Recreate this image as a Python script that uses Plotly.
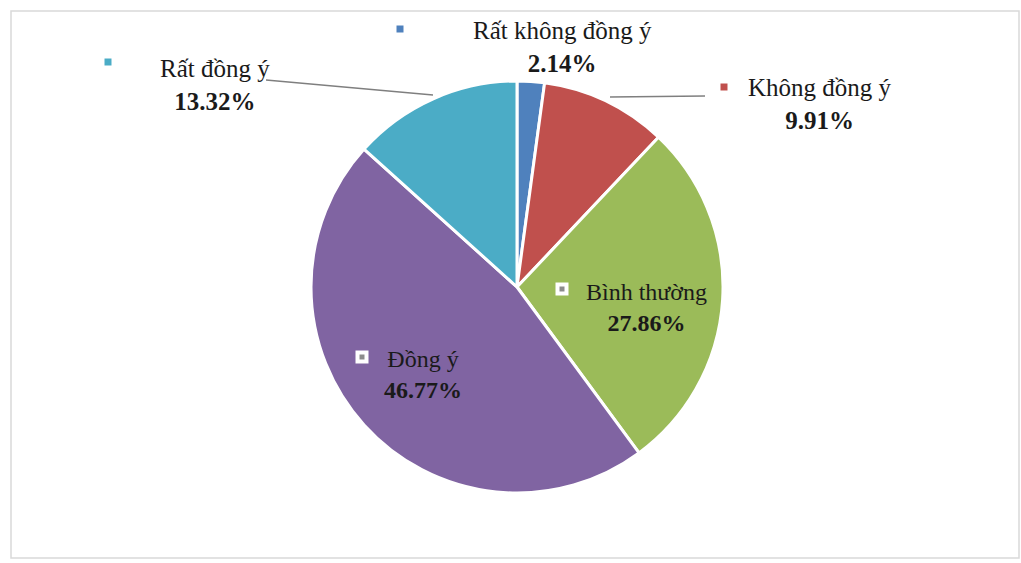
import plotly.graph_objects as go

# Survey response shares (%)
categories = ["Rất không đồng ý", "Không đồng ý", "Bình thường", "Đồng ý", "Rất đồng ý"]
shares = [2.14, 9.91, 27.86, 46.77, 13.32]
colors = ["#4F81BD", "#C0504D", "#9BBB59", "#8064A2", "#4BACC6"]

W, H = 1021, 563
FONT = "'Liberation Serif', 'DejaVu Serif', serif"


def px(x, y):
    """Convert pixel position (from top-left) to paper coordinates."""
    return x / W, 1 - y / H


# Pie placement
cx, cy, r = 517, 287, 206
x0, y0 = px(cx - r, cy + r)
x1, y1 = px(cx + r, cy - r)

fig = go.Figure(
    go.Pie(
        labels=categories,
        values=shares,
        sort=False,
        direction="clockwise",
        rotation=0,
        marker=dict(colors=colors, line=dict(color="white", width=3)),
        textinfo="none",
        hoverinfo="label+percent",
        showlegend=False,
        domain=dict(x=[x0, x1], y=[y0, y1]),
    )
)

# Label layout: (center x, center y, font size, marker x, marker y, inside-slice key)
label_pos = {
    "Rất không đồng ý": (562, 47, 25, 400, 29, False),
    "Không đồng ý": (820, 104, 25, 724, 87, False),
    "Bình thường": (646, 307, 24, 562, 289, True),
    "Đồng ý": (423, 374, 24, 362, 357, True),
    "Rất đồng ý": (215, 85, 25, 108, 62, False),
}

annotations = []
shapes = []
for name, val, col in zip(categories, shares, colors):
    lx, ly, fs, mx, my, inside = label_pos[name]
    ax, ay = px(lx, ly)
    annotations.append(
        dict(
            x=ax, y=ay, xref="paper", yref="paper",
            text=f"{name}<br><b>{val:.2f}%</b>",
            showarrow=False, xanchor="center", yanchor="middle",
            align="center",
            font=dict(family=FONT, size=fs, color="#1a1a1a"),
        )
    )
    if inside:
        s = 6.5
        bx0, by0 = px(mx - s, my + s)
        bx1, by1 = px(mx + s, my - s)
        shapes.append(dict(type="rect", xref="paper", yref="paper",
                           x0=bx0, y0=by0, x1=bx1, y1=by1,
                           fillcolor="white", line=dict(width=0)))
        s2 = 2.5
        bx0, by0 = px(mx - s2, my + s2)
        bx1, by1 = px(mx + s2, my - s2)
        shapes.append(dict(type="rect", xref="paper", yref="paper",
                           x0=bx0, y0=by0, x1=bx1, y1=by1,
                           fillcolor="#8c8c8c", line=dict(width=0)))
    else:
        s = 3.5
        bx0, by0 = px(mx - s, my + s)
        bx1, by1 = px(mx + s, my - s)
        shapes.append(dict(type="rect", xref="paper", yref="paper",
                           x0=bx0, y0=by0, x1=bx1, y1=by1,
                           fillcolor=col, line=dict(width=0)))

# Leader lines for the outer labels
leaders = [((266, 80), (433, 95)), ((610, 97), (705, 96))]
for (ax_, ay_), (bx_, by_) in leaders:
    lx0, ly0 = px(ax_, ay_)
    lx1, ly1 = px(bx_, by_)
    shapes.append(dict(type="line", xref="paper", yref="paper",
                       x0=lx0, y0=ly0, x1=lx1, y1=ly1,
                       line=dict(color="#7f7f7f", width=1.5)))

# Chart area frame
fx0, fy0 = px(11, 558)
fx1, fy1 = px(1019, 11)
shapes.append(dict(type="rect", xref="paper", yref="paper",
                   x0=fx0, y0=fy0, x1=fx1, y1=fy1,
                   line=dict(color="#d9d9d9", width=1.5), layer="below"))

fig.update_layout(
    width=W, height=H,
    margin=dict(l=0, r=0, t=0, b=0),
    paper_bgcolor="white",
    plot_bgcolor="white",
    annotations=annotations,
    shapes=shapes,
)

fig.write_html("out.html")
